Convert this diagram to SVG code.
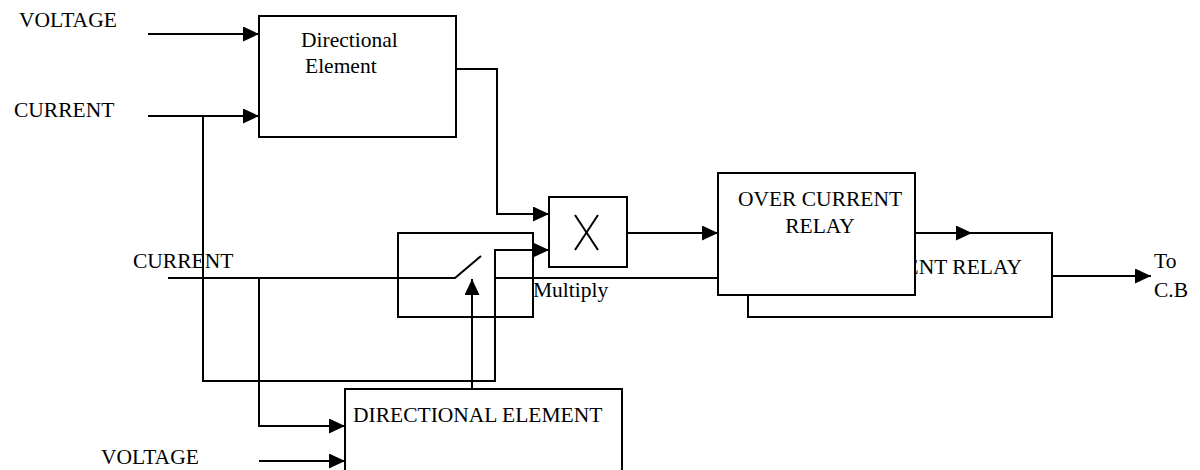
<svg xmlns="http://www.w3.org/2000/svg" width="1200" height="470" viewBox="0 0 1200 470">
  <style>
    .box { fill: #fff; stroke: #000; stroke-width: 2; }
    .open { fill: none; stroke: #000; stroke-width: 2; }
    .wire { fill: none; stroke: #000; stroke-width: 2; }
    .arr { marker-end: url(#head); }
    text { font-family: "Liberation Serif", "Times New Roman", serif; font-size: 21.5px; fill: #000; }
  </style>
  <defs>
    <marker id="head" markerUnits="userSpaceOnUse" markerWidth="16" markerHeight="15" refX="16" refY="7.5" orient="auto">
      <path d="M0,0 L16,7.5 L0,15 z" fill="#000"/>
    </marker>
  </defs>

  <!-- input / output labels -->
  <g id="labels">
    <text x="19" y="27">VOLTAGE</text>
    <text x="14" y="117">CURRENT</text>
    <text x="133" y="268">CURRENT</text>
    <text x="101" y="464">VOLTAGE</text>
    <text x="1154" y="268">To</text>
    <text x="1154" y="297">C.B</text>
  </g>

  <!-- rear over-current relay (partly hidden) -->
  <g id="ocr-back">
    <rect class="box" x="748" y="233" width="304" height="84"/>
    <text x="1022" y="274" text-anchor="end">OVER CURRENT RELAY</text>
  </g>

  <!-- connectors -->
  <g id="connectors">
    <line class="wire arr" x1="148" y1="34" x2="259" y2="34"/>
    <line class="wire arr" x1="148" y1="116" x2="259" y2="116"/>
    <!-- current branch looping to the multiplier -->
    <polyline class="wire arr" points="203,116 203,381 495,381 495,250 549,250"/>
    <!-- directional element output to the multiplier -->
    <polyline class="wire arr" points="456,69 497,69 497,214 549,214"/>
    <!-- current through the switch -->
    <polyline class="wire" points="168,278 455,278 481,256"/>
    <line class="wire" x1="495" y1="278" x2="718" y2="278"/>
    <!-- lower current branch -->
    <polyline class="wire arr" points="259,278 259,426 345,426"/>
    <line class="wire arr" x1="259" y1="461" x2="345" y2="461"/>
    <!-- lower directional element actuating the switch -->
    <line class="wire arr" x1="472" y1="389" x2="472" y2="279"/>
    <!-- multiplier to relay -->
    <line class="wire arr" x1="627" y1="233" x2="718" y2="233"/>
    <line class="wire arr" x1="915" y1="233" x2="972" y2="233"/>
    <line class="wire arr" x1="1052" y1="276" x2="1151" y2="276"/>
  </g>

  <!-- upper directional element -->
  <g id="dir-upper">
    <rect class="box" x="259" y="16" width="197" height="121"/>
    <text x="301" y="47">Directional</text>
    <text x="305" y="73">Element</text>
  </g>

  <!-- switch block -->
  <g id="switch">
    <rect class="open" x="398" y="233" width="135" height="84"/>
  </g>

  <!-- multiplier -->
  <g id="multiplier">
    <rect class="box" x="549" y="197" width="78" height="70"/>
    <line class="wire" x1="575" y1="215" x2="598" y2="250"/>
    <line class="wire" x1="598" y1="215" x2="575" y2="250"/>
    <text x="533" y="297">Multiply</text>
  </g>

  <!-- front over-current relay -->
  <g id="ocr-front">
    <rect class="box" x="718" y="173" width="197" height="122"/>
    <text x="820" y="206" text-anchor="middle">OVER CURRENT</text>
    <text x="820" y="233" text-anchor="middle">RELAY</text>
  </g>

  <!-- lower directional element -->
  <g id="dir-lower">
    <rect class="box" x="345" y="389" width="277" height="100"/>
    <text x="353" y="422">DIRECTIONAL ELEMENT</text>
  </g>
</svg>
